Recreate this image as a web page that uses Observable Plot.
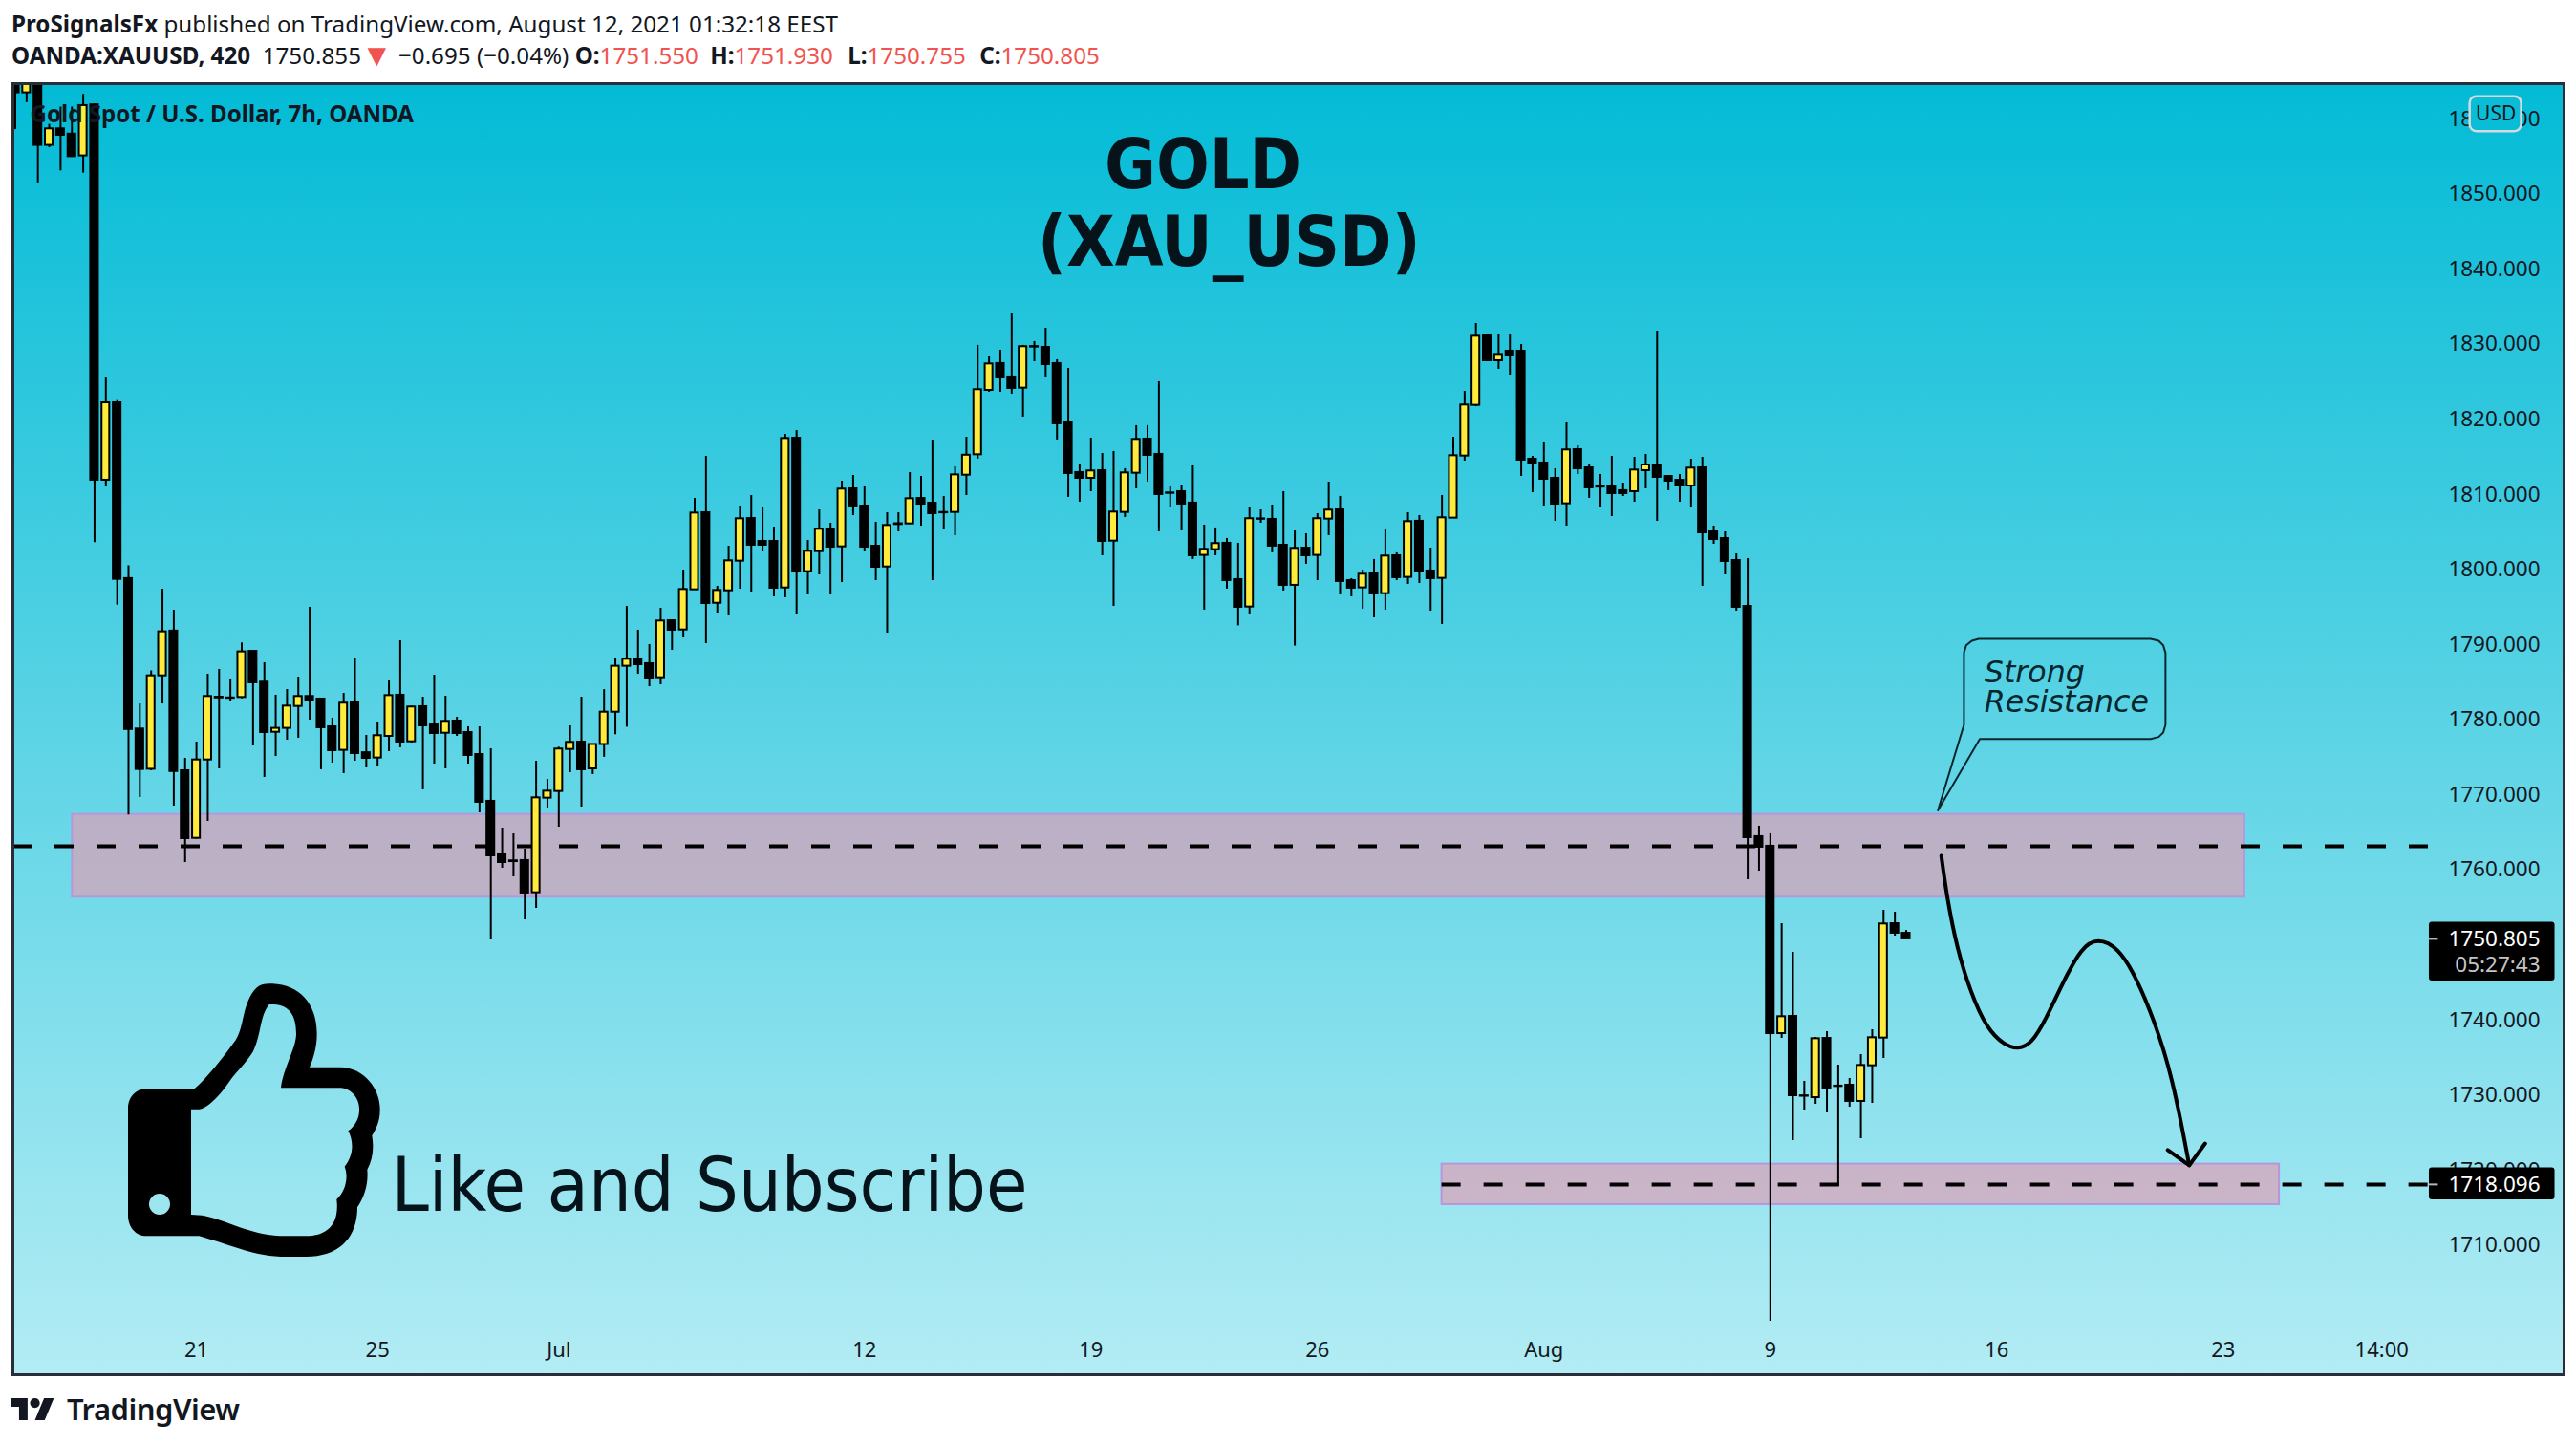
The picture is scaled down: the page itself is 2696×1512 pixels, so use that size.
<!DOCTYPE html>
<html><head><meta charset="utf-8">
<script src="https://cdn.jsdelivr.net/npm/d3@7"></script>
<script src="https://cdn.jsdelivr.net/npm/@observablehq/plot@0.6"></script>
<style>
html,body{margin:0;padding:0;background:#fff;width:2696px;height:1512px;overflow:hidden}
#head{height:85px;box-sizing:border-box;padding:8px 0 0 12px;font-family:"Noto Sans",sans-serif;font-size:24.2px;line-height:33px;color:#131722;white-space:nowrap}
#head b{font-weight:700}#head .r{color:#f05350}
#head .t{font-size:33px;line-height:0;vertical-align:-2px}
#foot{height:72px;position:relative;font-family:"Noto Sans",sans-serif;color:#131722}
#chart svg{display:block}
</style></head><body>
<div id="head">
<div><b>ProSignalsFx</b> published on TradingView.com, August 12, 2021 01:32:18 EEST</div>
<div><b>OANDA:XAUUSD, 420</b>&nbsp; 1750.855<span class="r t">▼</span> −0.695 (−0.04%) <b>O:</b><span class="r">1751.550</span> <b style="margin-left:6px">H:</b><span class="r">1751.930</span> <b style="margin-left:9px">L:</b><span class="r">1750.755</span> <b style="margin-left:8px">C:</b><span class="r">1750.805</span></div>
</div>
<div id="chart"></div>
<div id="foot">
<svg width="46" height="23" viewBox="0 0 36 18" style="position:absolute;left:11px;top:23px"><path fill="#131722" d="M14 18H7V7H0V0h14v18zM28 18h-8L27.500 0h8L28 18z"/><circle fill="#131722" cx="20" cy="4" r="4"/></svg>
<div style="position:absolute;left:70px;top:13px;font-size:31px;font-weight:600;letter-spacing:-.5px">TradingView</div>
</div>
<script>
const open = [
1872,1863.5,1870,1856.5,1858.7,1858,1855.1,1861.9,1811.9,1822.2,
1798.8,1778.76,1773.4,1785.84,1791.8,1773.2,1764.2,1774.64,1783,1782.9,
1782.96,1789.1,1785,1778.33,1778.85,1781.77,1783.09,1782.75,1779.05,1775.92,
1782.24,1775.6,1774.9,1777.78,1783.26,1777.06,1781.73,1779.3,1778.2,1779.82,
1778.29,1775.36,1769.13,1762,1761.2,1761.24,1756.95,1769.55,1770.44,1776.04,
1777.02,1773.45,1776.7,1781,1787.12,1788.09,1787.46,1785.59,1793.18,1791.95,
1797.3,1807.57,1795.51,1797.17,1801.12,1806.8,1803.75,1803.75,1797.55,1817.49,
1799.72,1802.39,1805.4,1803.03,1810.75,1808.46,1803.11,1800.35,1806.1,1806.08,
1809.47,1808.84,1807.6,1807.61,1812.57,1815.29,1823.86,1827.43,1825.65,1824.16,
1829.7,1829.59,1827.43,1819.54,1812.92,1812.15,1813.17,1803.79,1807.61,1812.83,
1817.37,1815.34,1810.2,1810.37,1808.85,1801.89,1802.65,1803.5,1798.66,1795.01,
1806.75,1806.68,1803.24,1797.9,1802.86,1801.89,1806.72,1807.95,1798.53,1797.56,
1799.43,1796.79,1801.84,1798.96,1806.43,1799.81,1798.83,1806.85,1815.12,1821.87,
1831.11,1827.81,1829.08,1829.08,1814.7,1814.19,1812.15,1808.76,1815.97,1813.55,
1811.03,1811.13,1810.5,1810.37,1813.17,1813.93,1812.4,1811.89,1811.13,1813.55,
1805.02,1804.13,1801.2,1795.09,1764.42,1763.15,1738.19,1740.48,1729.9,1729.66,
1737.55,1731.2,1731.32,1729.16,1733.91,1737.6,1752.83,1751.55];
const high = [
1872,1870,1872,1859.3,1861.6,1861.6,1863.3,1862,1825.5,1822.5,
1800.5,1782.1,1786.5,1797.38,1794.58,1774.85,1777.02,1786.06,1786.69,1785.29,
1790.21,1789.24,1787.58,1783.26,1784.02,1785.67,1794.97,1782.87,1780.2,1783.5,
1788.09,1777.91,1779.69,1785.16,1790.51,1781.8,1783,1785.93,1783.13,1780.33,
1779.05,1779.05,1776.13,1765.56,1764.8,1762.76,1774.47,1772.05,1776.34,1779.18,
1783,1776.7,1784,1788.18,1795.09,1791.91,1790,1794.84,1793.31,1799.93,
1809.47,1815.08,1797.77,1803.11,1808.46,1809.86,1808.33,1805.66,1818,1818.51,
1803.87,1807.95,1806.17,1811.77,1812.53,1811,1806.29,1807.57,1807.57,1812.91,
1812.4,1817.24,1809.73,1813.67,1817.62,1829.85,1828.32,1829.21,1834.17,1829.85,
1830.36,1832.14,1827.94,1826.79,1813.94,1817.5,1815.46,1815.72,1813.43,1819.16,
1819.16,1825.01,1811.01,1811.14,1813.81,1805.92,1805.54,1804.14,1803.5,1808.21,
1807.95,1808.59,1810.37,1805.15,1804.77,1807.44,1811.64,1809.74,1798.79,1799.93,
1801.34,1805.28,1802.23,1807.57,1807.19,1802.86,1809.86,1817.62,1823.73,1832.77,
1831.37,1831.37,1831.37,1829.97,1815.08,1816.99,1813.42,1819.53,1816.48,1814.06,
1812.66,1815.08,1811.51,1814.95,1815.33,1831.75,1812.53,1812.66,1814.69,1814.95,
1805.79,1805.02,1802.09,1801.46,1765.82,1764.8,1752.83,1749.01,1731.83,1737.68,
1738.45,1733.99,1732.21,1735.39,1738.7,1754.61,1754.36,1751.93];
const low = [
1858.6,1862.2,1851.5,1856.2,1853.1,1854.9,1852.8,1803.6,1811,1795.26,
1767.3,1769.64,1773.2,1782.1,1768.49,1760.98,1764.1,1766.45,1773.45,1782.36,
1782.79,1776.51,1772.31,1775.11,1777.27,1777.53,1779.95,1773.33,1774.22,1772.82,
1774.47,1773.58,1773.71,1775.75,1776.26,1776.89,1770.66,1774.09,1773.45,1777.78,
1774.09,1767.6,1750.67,1760.22,1759.07,1753.34,1754.87,1768.24,1765.69,1772.95,
1768.36,1772.7,1775,1778,1779,1786.05,1784.4,1784.65,1789.24,1790.89,
1797.3,1790.13,1794.2,1793.95,1797.38,1797,1802.35,1796.37,1796.24,1794.07,
1796.62,1799.29,1796.62,1798.27,1807.18,1802.35,1798.53,1791.53,1805.02,1806.08,
1805.78,1798.53,1805.27,1804.51,1809.86,1814.7,1823.61,1823.61,1823.36,1820.3,
1827.68,1825.65,1817.25,1809.61,1808.97,1810.37,1801.84,1795.1,1806.94,1810.75,
1811.65,1805.03,1808.21,1805.15,1801.34,1794.59,1801.84,1797.39,1792.5,1794.08,
1806.17,1802.23,1797.14,1789.8,1800.7,1798.53,1804.52,1796.62,1796.37,1794.72,
1793.57,1794.59,1798.53,1798.03,1798.15,1794.46,1792.68,1806.85,1814.44,1821.7,
1827.7,1826.66,1825.9,1812.4,1810.24,1808.46,1806.42,1805.79,1812.66,1809.48,
1808.2,1807.06,1809.73,1808.97,1810.75,1806.42,1810.5,1808.97,1808.33,1797.77,
1803.37,1799.29,1794.46,1758.69,1759.83,1699.88,1737.56,1723.94,1728.01,1728.77,
1727.63,1717.83,1728.39,1724.19,1728.9,1734.88,1751.18,1750.755];
const close = [
1863.5,1868,1856.5,1858.7,1857.85,1855,1861.8,1811.9,1822.2,1798.7,
1778.7,1773.37,1785.84,1791.7,1773.1,1764.16,1774.64,1783.09,1782.9,1782.85,
1789.03,1784.91,1778.29,1778.85,1781.81,1783.09,1782.62,1778.93,1775.87,1782.2,
1775.49,1774.85,1777.87,1783.21,1777.02,1781.69,1779.18,1778.16,1779.78,1778.16,
1775.24,1769,1761.87,1760.98,1761.1,1756.91,1769.59,1770.48,1776.09,1776.98,
1773.33,1776.7,1781,1787.12,1788.05,1787.33,1785.55,1793.14,1791.91,1797.34,
1807.52,1795.47,1797.21,1801.16,1806.76,1803.24,1803.24,1797.51,1817.45,1799.67,
1802.43,1805.36,1802.98,1810.71,1808.33,1802.98,1800.31,1805.87,1806,1809.43,
1808.71,1807.44,1807.55,1812.61,1815.23,1823.95,1827.38,1825.52,1824.12,1829.68,
1829.63,1827.3,1819.41,1812.79,1812.15,1813.13,1803.75,1807.65,1812.87,1817.33,
1815.21,1809.99,1810.15,1808.72,1801.84,1802.69,1803.46,1798.53,1794.97,1806.77,
1806.7,1803.12,1797.9,1802.82,1801.84,1806.77,1807.91,1798.41,1797.52,1799.38,
1796.75,1801.8,1798.92,1806.38,1799.68,1798.79,1806.89,1815.16,1821.91,1831.07,
1827.81,1828.65,1828.57,1814.57,1814.06,1812.02,1808.71,1815.93,1813.42,1810.88,
1810.98,1810.11,1810.11,1813.25,1813.93,1812.28,1811.77,1811.13,1813.51,1804.89,
1804,1801.08,1794.97,1764.29,1763.02,1738.19,1740.44,1729.92,1729.85,1737.51,
1730.94,1731.15,1729.16,1733.95,1737.64,1752.79,1751.56,1750.805];
const xTickBars = [16,32,48,75,95,115,135,155,175,195,209];
const xTickLabels = ["21","25","Jul","12","19","26","Aug","9","16","23","14:00"];
const yTicks = [1710,1720,1730,1740,1750,1760,1770,1780,1790,1800,1810,1820,1830,1840,1850,1860];
const resistanceLevel = 1763.15, supportLevel = 1718.096, lastPrice = 1750.805;
const pathBars   = [170.1,170.6,171.5,172.7,174.1,175.7,176.9,178.1,179.3,180.9,182.5,183.9,185.7,187.3,188.9,190.5,192];
const pathPrices = [1761.87,1756.3,1749.43,1743.63,1738.87,1736.6,1736.1,1736.9,1739.98,1745.21,1749.7,1750.9,1749.7,1745.74,1739.98,1732.53,1720.65];
const calloutBars   = [172.1,172.1,172.3,172.8,173.4,188.6,189.3,189.7,189.9,189.9,189.7,189.3,188.6,173.5,169.8,172.1];
const calloutPrices = [1779.3,1788.9,1789.9,1790.5,1790.77,1790.77,1790.5,1789.9,1788.9,1779.3,1778.3,1777.7,1777.43,1777.43,1767.92,1779.3];

const candles = open.map((o,i)=>({bar:i,open:o,high:high[i],low:low[i],close:close[i]}));
const upC = candles.filter(d=>d.close>=d.open), downC = candles.filter(d=>d.close<d.open);
const zones = [{x1:5.05,x2:196.9,y1:1756.36,y2:1767.38},{x1:126,x2:199.96,y1:1715.41,y2:1720.8}];
const ink="#131722", sans='"Noto Sans",sans-serif', cond='"DejaVu Sans Condensed","DejaVu Sans",sans-serif';
const pts=(xs,ys)=>xs.map((x,i)=>({x,y:ys[i]}));
const T=(s,x,y,o)=>Plot.text([s],{x:()=>x,y:()=>y,text:d=>d,textAnchor:"start",lineAnchor:"middle",fill:ink,fontFamily:sans,...o});

const gradient=()=>{const g=d3.create("svg:defs");const l=g.append("linearGradient").attr("id","bg").attr("x1",0).attr("x2",0).attr("y1",0).attr("y2",1);
 l.append("stop").attr("offset","0%").attr("stop-color","#03bbd6");l.append("stop").attr("offset","100%").attr("stop-color","#b3ecf4");return g.node();};
const thumb=()=>{const g=d3.create("svg:g").attr("transform","translate(100,915) scale(0.33333)");
 g.append("path").attr("fill","#000").attr("fill-rule","evenodd").attr("d",
 "M160 418L310 418C350 385 400 320 440 265C465 225 460 170 490 120C510 88 530 88 555 88C640 92 695 150 695 245C695 285 685 320 672 350L770 350C845 352 895 420 893 485C893 520 880 545 868 565C875 605 870 640 853 672C857 715 845 755 822 790C822 880 770 945 660 945L600 945C500 945 430 910 325 880L160 880C125 880 102 850 102 815L102 480C102 445 125 418 160 418Z"+
 "M300 482L325 482C350 480 390 440 420 395C440 365 475 335 495 300C520 250 515 190 545 153L560 153C610 155 630 190 630 245C630 290 590 350 582 415L770 415C805 418 830 450 828 485C828 510 815 535 793 550C810 580 812 625 782 662C795 695 785 740 757 765C765 830 740 880 660 880L600 880C480 880 420 830 335 815L300 813Z"+
 "M168 780a33 33 0 1 0 66 0a33 33 0 1 0 -66 0Z");return g.node();};

const chart = Plot.plot({
 width:2696,height:1355,marginTop:2,marginBottom:2,marginLeft:13,marginRight:13,
 style:{background:"transparent",overflow:"visible"},
 x:{domain:[-0.21,225.1],label:null},
 y:{domain:[1692.75,1864.72],label:null},
 marks:[
  gradient,
  Plot.frame({fill:"url(#bg)",stroke:null}),
  Plot.axisY(yTicks,{anchor:"right",tickSize:0,tickPadding:0,textAnchor:"end",dx:-25,fontSize:22.5,fontFamily:sans,fill:ink,tickFormat:d=>d.toFixed(3),label:null}),
  Plot.axisX(xTickBars,{anchor:"bottom",tickSize:0,tickPadding:0,dy:-34,fontSize:22,fontFamily:sans,fill:ink,tickFormat:d=>xTickLabels[xTickBars.indexOf(d)],label:null}),
  Plot.rect(zones,{x1:"x1",x2:"x2",y1:"y1",y2:"y2",fill:"rgb(222,160,183)",fillOpacity:.7,stroke:"#b896dc",strokeWidth:2}),
  Plot.ruleY([resistanceLevel],{x1:-0.21,x2:213.2,stroke:"#000",strokeWidth:4,strokeDasharray:"20,24"}),
  Plot.ruleY([supportLevel],{x1:126,x2:213.2,stroke:"#000",strokeWidth:4,strokeDasharray:"20,24"}),
  Plot.ruleX(candles,{x:"bar",y1:"low",y2:"high",stroke:"#000",strokeWidth:2,clip:true}),
  Plot.rect(downC,{x1:d=>d.bar-0.34,x2:d=>d.bar+0.34,y1:"open",y2:"close",fill:"#000",stroke:"#000",strokeWidth:2,clip:true}),
  Plot.rect(upC,{x1:d=>d.bar-0.34,x2:d=>d.bar+0.34,y1:"open",y2:"close",fill:"#ffeb3b",stroke:"#000",strokeWidth:2,clip:true}),
  Plot.line(pts(pathBars,pathPrices),{x:"x",y:"y",curve:"basis",stroke:"#000",strokeWidth:4,strokeLinecap:"round"}),
  Plot.line(pts([190.1,192,193.4],[1722.67,1720.65,1723.55]),{x:"x",y:"y",stroke:"#000",strokeWidth:4}),
  Plot.line(pts(calloutBars,calloutPrices),{x:"x",y:"y",stroke:"#06262e",strokeWidth:2}),
  T("Strong",173.9,1786.3,{fontFamily:'"DejaVu Sans",sans-serif',fontStyle:"italic",fontSize:31.7,fill:"#06262e"}),
  T("Resistance",173.9,1782.3,{fontFamily:'"DejaVu Sans",sans-serif',fontStyle:"italic",fontSize:31.7,fill:"#06262e"}),
  T("Gold Spot / U.S. Dollar, 7h, OANDA",1.31,1860.52,{fontSize:24.1,fontWeight:700}),
  T("GOLD",96.2,1853.7,{fontFamily:cond,fontWeight:700,fontSize:73,fill:"#06131a"}),
  T("(XAU_USD)",90.3,1843.4,{fontFamily:cond,fontWeight:700,fontSize:73,fill:"#06131a"}),
  T("Like and Subscribe",33.2,1717.8,{fontFamily:cond,fontSize:78.6,fill:"#06131a"}),
  thumb,
  Plot.rect([0],{x1:216.8,x2:221.35,y1:1858.32,y2:1862.98,fill:"#09bdd7",stroke:"#d6dadf",strokeWidth:2.5,rx:7}),
  T("USD",219.08,1860.65,{textAnchor:"middle",fontSize:21}),
  Plot.rect([0],{x1:213.2,x2:224.3,y1:1745.2,y2:1753.03,fill:"#000",rx:3}),
  Plot.rect([0],{x1:213.2,x2:224.3,y1:1716.05,y2:1720.3,fill:"#000",rx:3}),
  Plot.ruleY([lastPrice,supportLevel],{x1:213.2,x2:214,stroke:"#b2b5be",strokeWidth:2}),
  T(lastPrice.toFixed(3),223,lastPrice,{textAnchor:"end",fontSize:22.5,fill:"#fff"}),
  T("05:27:43",223,1747.36,{textAnchor:"end",fontSize:22.5,fill:"#c4c4c4"}),
  T(supportLevel.toFixed(3),223,supportLevel,{textAnchor:"end",fontSize:22.5,fill:"#fff"}),
  Plot.frame({stroke:"#2a2e39",strokeWidth:3})
 ]
});
document.getElementById("chart").append(chart);
</script>
</body></html>
